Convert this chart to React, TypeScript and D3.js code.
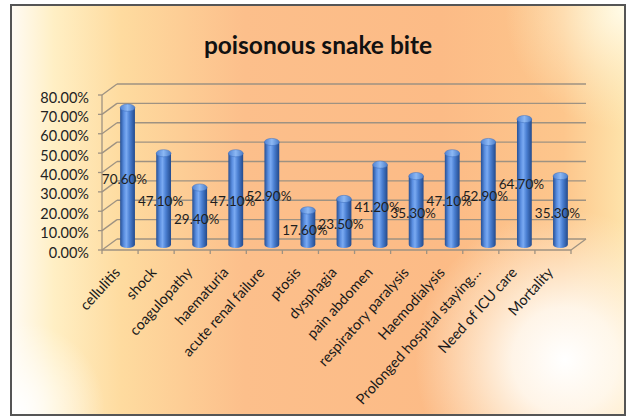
import React from "react";
import * as d3 from "d3";

const categories = [
  "cellulitis",
  "shock",
  "coagulopathy",
  "haematuria",
  "acute renal failure",
  "ptosis",
  "dysphagia",
  "pain abdomen",
  "respiratory paralysis",
  "Haemodialysis",
  "Prolonged hospital staying…",
  "Need of ICU care",
  "Mortality",
];
const values = [70.6, 47.1, 29.4, 47.1, 52.9, 17.6, 23.5, 41.2, 35.3, 47.1, 52.9, 64.7, 35.3];
const yTicks = [0, 10, 20, 30, 40, 50, 60, 70, 80];
const title = "poisonous snake bite";

const W = 628;
const H = 418;
const DX = 15;
const DY = -11;
const FONT = "Lato, 'Open Sans', sans-serif";

export default function App() {
  const x = d3.scaleBand<string>().domain(categories).range([102, 571]).paddingInner(0).paddingOuter(0);
  const y = d3.scaleLinear().domain([0, 80]).range([250, 95]);
  const bw = x.bandwidth();
  const fmt = (v: number) => d3.format(".2f")(v) + "%";
  const r = 7.4;
  const ry = 3.6;

  return (
    <svg
      width={W}
      height={H}
      style={{ position: "absolute", left: 0, top: 0, background: "#ffffff" }}
    >
      <defs>
        <linearGradient id="bg" x1="0" y1="0" x2="1" y2="0">
          <stop offset="0" stopColor="#fffbf4" />
          <stop offset="0.07" stopColor="#ffefc4" />
          <stop offset="0.18" stopColor="#fedb9f" />
          <stop offset="0.38" stopColor="#fcbf8b" />
          <stop offset="0.7" stopColor="#fcbb86" />
          <stop offset="0.9" stopColor="#fdc68c" />
          <stop offset="1" stopColor="#fee3aa" />
        </linearGradient>
        <radialGradient id="spot" cx="565" cy="360" r="150" gradientUnits="userSpaceOnUse">
          <stop offset="0" stopColor="#ffffff" stopOpacity="1" />
          <stop offset="0.35" stopColor="#fffaf2" stopOpacity="0.9" />
          <stop offset="1" stopColor="#fff4e0" stopOpacity="0" />
        </radialGradient>
        <radialGradient id="corner" cx="625" cy="10" r="120" gradientUnits="userSpaceOnUse">
          <stop offset="0" stopColor="#fffbe8" stopOpacity="1" />
          <stop offset="1" stopColor="#fff0c8" stopOpacity="0" />
        </radialGradient>
        <radialGradient id="leftlow" cx="15" cy="410" r="90" gradientUnits="userSpaceOnUse">
          <stop offset="0" stopColor="#ffffff" stopOpacity="1" />
          <stop offset="1" stopColor="#ffffff" stopOpacity="0" />
        </radialGradient>
        <linearGradient id="cyl" x1="0" y1="0" x2="1" y2="0">
          <stop offset="0" stopColor="#264f94" />
          <stop offset="0.25" stopColor="#5a8ee0" />
          <stop offset="0.42" stopColor="#7aaaf2" />
          <stop offset="0.65" stopColor="#4a7fd2" />
          <stop offset="1" stopColor="#234a8c" />
        </linearGradient>
        <linearGradient id="cap" x1="0" y1="0" x2="1" y2="0">
          <stop offset="0" stopColor="#4f82d4" />
          <stop offset="0.5" stopColor="#8cb8f4" />
          <stop offset="1" stopColor="#4a7cc8" />
        </linearGradient>
      </defs>

      <rect x={11} y={5} width={614} height={410} fill="url(#bg)" />
      <rect x={11} y={5} width={614} height={410} fill="url(#corner)" />
      <rect x={11} y={5} width={614} height={410} fill="url(#spot)" />
      <rect x={11} y={5} width={614} height={410} fill="url(#leftlow)" />
      <rect x={11} y={5} width={614} height={410} fill="none" stroke="#555" strokeWidth={2} />

      <text
        x={318}
        y={54}
        textAnchor="middle"
        fontFamily={FONT}
        fontWeight="bold"
        fontSize={24.5}
        fill="#111"
      >
        {title}
      </text>

      {/* gridlines: side wall + back wall */}
      <g stroke="#9e9282" strokeWidth={1.3} fill="none">
        {yTicks.map((t) => (
          <g key={t}>
            <line x1={102} y1={y(t)} x2={102 + DX} y2={y(t) + DY} />
            <line x1={102 + DX} y1={y(t) + DY} x2={571 + DX} y2={y(t) + DY} />
          </g>
        ))}
        {/* floor */}
        <line x1={102} y1={y(0)} x2={571} y2={y(0)} />
        <line x1={571} y1={y(0)} x2={571 + DX} y2={y(0) + DY} />
        {/* y axis */}
        <line x1={102} y1={y(80)} x2={102} y2={y(0)} />
        {yTicks.map((t) => (
          <line key={"yt" + t} x1={98} y1={y(t)} x2={102} y2={y(t)} />
        ))}
        {categories.map((c) => (
          <line key={"xt" + c} x1={x(c)!} y1={y(0)} x2={x(c)!} y2={y(0) + 4} />
        ))}
        <line x1={571} y1={y(0)} x2={571} y2={y(0) + 4} />
      </g>

      {/* y labels */}
      {yTicks.map((t) => (
        <text
          key={"yl" + t}
          x={89}
          y={y(t) + 2}
          textAnchor="end"
          dominantBaseline="central"
          fontFamily={FONT}
          fontSize={14.5}
          fill="#222"
        >
          {d3.format(".2f")(t) + "%"}
        </text>
      ))}

      {/* bars */}
      {categories.map((c, i) => {
        const cx = x(c)! + bw / 2 + DX / 2;
        const yb = y(0) + DY / 2;
        const yt = y(values[i]) + DY / 2;
        const d = `M${cx - r},${yt} L${cx - r},${yb} A${r},${ry} 0 0 0 ${cx + r},${yb} L${cx + r},${yt} Z`;
        return (
          <g key={"bar" + c}>
            <path d={d} fill="url(#cyl)" />
            <ellipse cx={cx} cy={yt} rx={r} ry={ry} fill="url(#cap)" stroke="#3e6fbd" strokeWidth={0.5} />
          </g>
        );
      })}

      {/* data labels */}
      {categories.map((c, i) => {
        const cx = x(c)! + bw / 2 + DX / 2;
        const ym = (y(values[i]) + y(0)) / 2 + DY / 2 + 2.5;
        return (
          <text
            key={"dl" + c}
            x={cx - 3}
            y={ym}
            textAnchor="middle"
            dominantBaseline="central"
            fontFamily={FONT}
            fontSize={13.5}
            fill="#1e1e1e"
          >
            {fmt(values[i])}
          </text>
        );
      })}

      {/* x labels */}
      {categories.map((c) => {
        const ax = x(c)! + bw / 2 + 1;
        const ay = 273;
        return (
          <text
            key={"xl" + c}
            x={ax}
            y={ay}
            transform={`rotate(-48 ${ax} ${ay})`}
            textAnchor="end"
            fontFamily={FONT}
            fontSize={14.5}
            fill="#1a1a1a"
          >
            {c}
          </text>
        );
      })}
    </svg>
  );
}
